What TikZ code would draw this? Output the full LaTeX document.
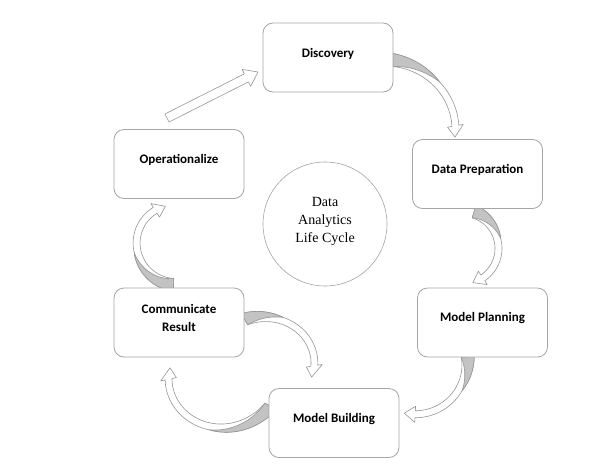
\documentclass[tikz,border=0pt]{standalone}
\usepackage{fontspec}
\setmainfont{Liberation Serif}
\newfontfamily\boxfont{Carlito}
\usetikzlibrary{calc}
\definecolor{edgegray}{RGB}{165,165,165}
\definecolor{ribgray}{RGB}{150,150,150}
\definecolor{fillgray}{RGB}{195,195,195}
\newcommand\ribW{7}
\newcommand\ribT{13}
\newcommand\ribH{16}
\newcommand\ribL{11}
% curved ribbon arrow: cx, cy, start angle, end angle, start radius, end radius, grey fraction
\newcommand\ribbon[7]{%
\begingroup
\pgfmathsetmacro\rcx{#1}\pgfmathsetmacro\rcy{#2}%
\pgfmathsetmacro\raA{#3}\pgfmathsetmacro\raB{#4}%
\pgfmathsetmacro\rrA{#5}\pgfmathsetmacro\rrB{#6}%
\pgfmathsetmacro\rhd{\ribL/\rrB*180/pi}%
\pgfmathsetmacro\rah{\raB-\rhd}%
\pgfmathsetmacro\ram{\raA+(\raB-\raA)*#7}%
\pgfmathsetmacro\rrh{\rrA+(\rrB-\rrA)*(\rah-\raA)/(\raB-\raA)}%
\def\rR{(\rrA+(\rrB-\rrA)*(\x-\raA)/(\raB-\raA))}%
\def\rE{((\ribT-\ribW)*(\x-\ram)/(\raA-\ram))}%
\def\rG{(\rR-\ribW/2+\ribW*(\x-\raA)/(\ram-\raA))}%
\filldraw[ribline,fill=white]
 plot[domain=\raA:\rah,samples=40] ({\rcx+(\rR-\ribW/2)*cos(\x)},{\rcy+(\rR-\ribW/2)*sin(\x)})
 -- ({\rcx+(\rrh-\ribH/2)*cos(\rah)},{\rcy+(\rrh-\ribH/2)*sin(\rah)})
 -- ({\rcx+\rrB*cos(\raB)},{\rcy+\rrB*sin(\raB)})
 -- ({\rcx+(\rrh+\ribH/2)*cos(\rah)},{\rcy+(\rrh+\ribH/2)*sin(\rah)})
 -- plot[domain=\rah:\ram,samples=30] ({\rcx+(\rR+\ribW/2)*cos(\x)},{\rcy+(\rR+\ribW/2)*sin(\x)})
 -- plot[domain=\ram:\raA,samples=30] ({\rcx+(\rR+\ribW/2+\rE)*cos(\x)},{\rcy+(\rR+\ribW/2+\rE)*sin(\x)})
 -- cycle;
\filldraw[ribline,fill=fillgray]
 plot[domain=\raA:\ram,samples=30] ({\rcx+\rG*cos(\x)},{\rcy+\rG*sin(\x)})
 -- plot[domain=\ram:\raA,samples=30] ({\rcx+(\rR+\ribW/2+\rE)*cos(\x)},{\rcy+(\rR+\ribW/2+\rE)*sin(\x)})
 -- cycle;
\endgroup}
\begin{document}
\begin{tikzpicture}[x=1pt,y=-1pt,
  ribline/.style={draw=ribgray,line width=0.6pt,line join=round},
  box/.style={draw=edgegray,line width=0.8pt,rounded corners=10pt,fill=white,
    minimum width=130pt,minimum height=69pt,inner sep=0pt},
  lbl/.style={font=\boxfont\bfseries\fontsize{13}{18}\selectfont,align=center,inner sep=0pt},
  cyc/.style={draw=edgegray,line width=0.6pt,circle,minimum size=124pt,inner sep=0pt},
  cyctext/.style={font=\fontsize{14}{18}\selectfont,align=center,inner sep=0pt}]
\fill[white] (0,0) rectangle (594,469);
\useasboundingbox (0,0) rectangle (594,469);

% curved connectors
\ribbon{393}{137}{270}{360}{74}{62}{0.45}
\ribbon{463}{248}{287}{434}{35}{36}{0.4}
\ribbon{418}{362}{354}{465}{47}{53}{0.35}
\ribbon{212}{370}{32}{183}{66}{42}{0.4}
\ribbon{275}{372}{240}{368}{58}{37}{0.3}
\ribbon{175}{242}{92}{255}{40}{37}{0.45}

% straight connector Operationalize -> Discovery
\coordinate (sT) at (167,118);
\coordinate (sP) at (258,72);
\coordinate (sB) at ($(sP)!13pt!(sT)$);
\filldraw[ribline,fill=white]
  ($(sT)!4.5pt!90:(sP)$) -- ($(sB)!4.5pt!-90:(sT)$) -- ($(sB)!9.5pt!-90:(sT)$)
  -- (sP) -- ($(sB)!9.5pt!90:(sT)$) -- ($(sB)!4.5pt!90:(sT)$)
  -- ($(sT)!4.5pt!-90:(sP)$) -- cycle;

% boxes
\node[box] (disc) at (328,57.5) {};
\node[box] (dprep) at (477.5,174) {};
\node[box] (mplan) at (482.5,322.5) {};
\node[box] (mbuild) at (334,423) {};
\node[box] (comm) at (179,322.5) {};
\node[box] (oper) at (179,164) {};

\node[lbl] (discT) at ($(disc.center)+(0,-4)$) {Discovery};
\node[lbl] (dprepT) at ($(dprep.center)+(0,-4)$) {Data Preparation};
\node[lbl] (mplanT) at ($(mplan.center)+(0,-4)$) {Model Planning};
\node[lbl] (mbuildT) at ($(mbuild.center)+(0,-4)$) {Model Building};
\node[lbl] (commT) at ($(comm.center)+(0,-5)$) {Communicate\\Result};
\node[lbl] (operT) at ($(oper.center)+(0,-4)$) {Operationalize};

% centre circle
\node[cyc] (life) at (325,224) {};
\node[cyctext] (lifeT) at ($(life.center)+(0,-3)$) {Data\\Analytics\\Life Cycle};
\end{tikzpicture}
\end{document}
